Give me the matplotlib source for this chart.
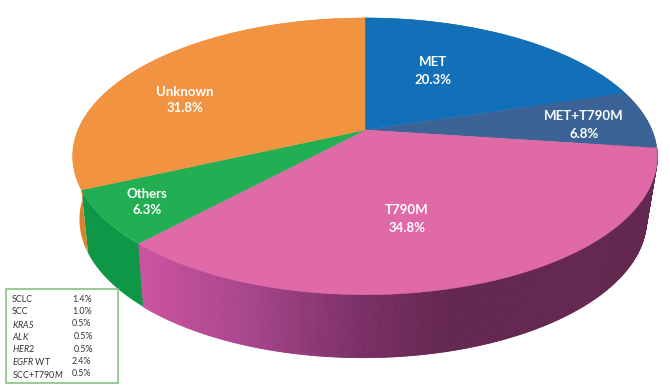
import numpy as np
import matplotlib
matplotlib.use('Agg')
import matplotlib.pyplot as plt
from matplotlib.colors import LinearSegmentedColormap
from matplotlib.patches import Rectangle

plt.rcParams['font.family'] = ['Lato', 'DejaVu Sans']
plt.rcParams['mathtext.fontset'] = 'custom'
plt.rcParams['mathtext.rm'] = 'Lato'
plt.rcParams['mathtext.it'] = 'Lato:italic'

# data, clockwise from 12 o'clock
labels = ['MET', 'MET+T790M', 'T790M', 'Others', 'Unknown']
shares = [20.3, 6.8, 34.8, 6.3, 31.8]
top_colors = ['#1270B8', '#3B6396', '#E06AA8', '#22AE52', '#F29341']
side_colors = ['#0E5A94', '#2C4C74', None, '#0F9748', '#D9822B']

box_names = ['SCLC', 'SCC', r'$\mathit{KRAS}$', r'$\mathit{ALK}$', r'$\mathit{HER2}$',
             r'$\mathit{EGFR}$ WT', r'SCC+$\mathit{T790M}$']
box_values = ['1.4%', '1.0%', '0.5%', '0.5%', '0.5%', '2.4%', '0.5%']

# perspective of the disc, in pixels
CX, CY = 365, 130
RX, RY = 287, 133.4
K = 0.19
DEPTH = 63
SHRINK = 0.97
BOTTOM_SHIFT = -2


def project(t, depth=0.0, scale=1.0, shift=0.0):
    f = 1 / (1 + K * np.sin(t))
    return CX + shift + scale * RX * np.cos(t) * f, CY + depth - RY * np.sin(t) * f


pink_side = LinearSegmentedColormap.from_list(
    'pink_side', [(0, '#CC52A0'), (0.35, '#A8468C'), (0.7, '#7C3068'), (1, '#64274F')])

fig = plt.figure(figsize=(6.7, 3.9), dpi=100)
ax = fig.add_axes([0, 0, 1, 1])
ax.set_xlim(0, 670)
ax.set_ylim(390, 0)
ax.axis('off')

edges = np.pi / 2 - np.radians(np.concatenate([[0], np.cumsum(shares)]) * 3.6)

# side wall first, top surface over it
for i in range(len(shares)):
    ts = np.linspace(edges[i], edges[i + 1], 300)
    x0, y0 = project(ts)
    x1, y1 = project(ts, DEPTH, SHRINK, BOTTOM_SHIFT)
    if side_colors[i] is None:
        for j in range(len(ts) - 1):
            c = pink_side(np.clip((x0[j] - 140) / (450 - 140), 0, 1))
            ax.fill([x0[j], x0[j + 1], x1[j + 1], x1[j]], [y0[j], y0[j + 1], y1[j + 1], y1[j]],
                    color=c, lw=0.6, zorder=1)
    else:
        ax.fill(np.r_[x0, x1[::-1]], np.r_[y0, y1[::-1]], color=side_colors[i], lw=0, zorder=1)

for i in range(len(shares)):
    ts = np.linspace(edges[i], edges[i + 1], 300)
    x, y = project(ts)
    ax.fill(np.r_[CX, x], np.r_[CY, y], color=top_colors[i], lw=0.3, zorder=2)

label_pos = [(433, 71), (584, 125), (407, 219), (147, 202), (185, 100)]
for name, val, (lx, ly) in zip(labels, shares, label_pos):
    ax.text(lx, ly, f'{name}\n{val}%', color='white', fontsize=9.5, fontweight='bold',
            ha='center', va='center', linespacing=1.5, zorder=3)

# small table bottom left
ax.add_patch(Rectangle((6, 289), 112, 94, fc='white', ec='#8CC98C', lw=1.3, zorder=4))
for i, (n, v) in enumerate(zip(box_names, box_values)):
    y = 299 + i * 12.5
    ax.text(12, y, n, fontsize=6.4, color='#333333', va='center', zorder=5)
    ax.text(72 + (2 if i in (3, 4) else 0), y, v, fontsize=6.4, color='#333333', va='center', zorder=5)

fig.savefig('out.png', dpi=100)
